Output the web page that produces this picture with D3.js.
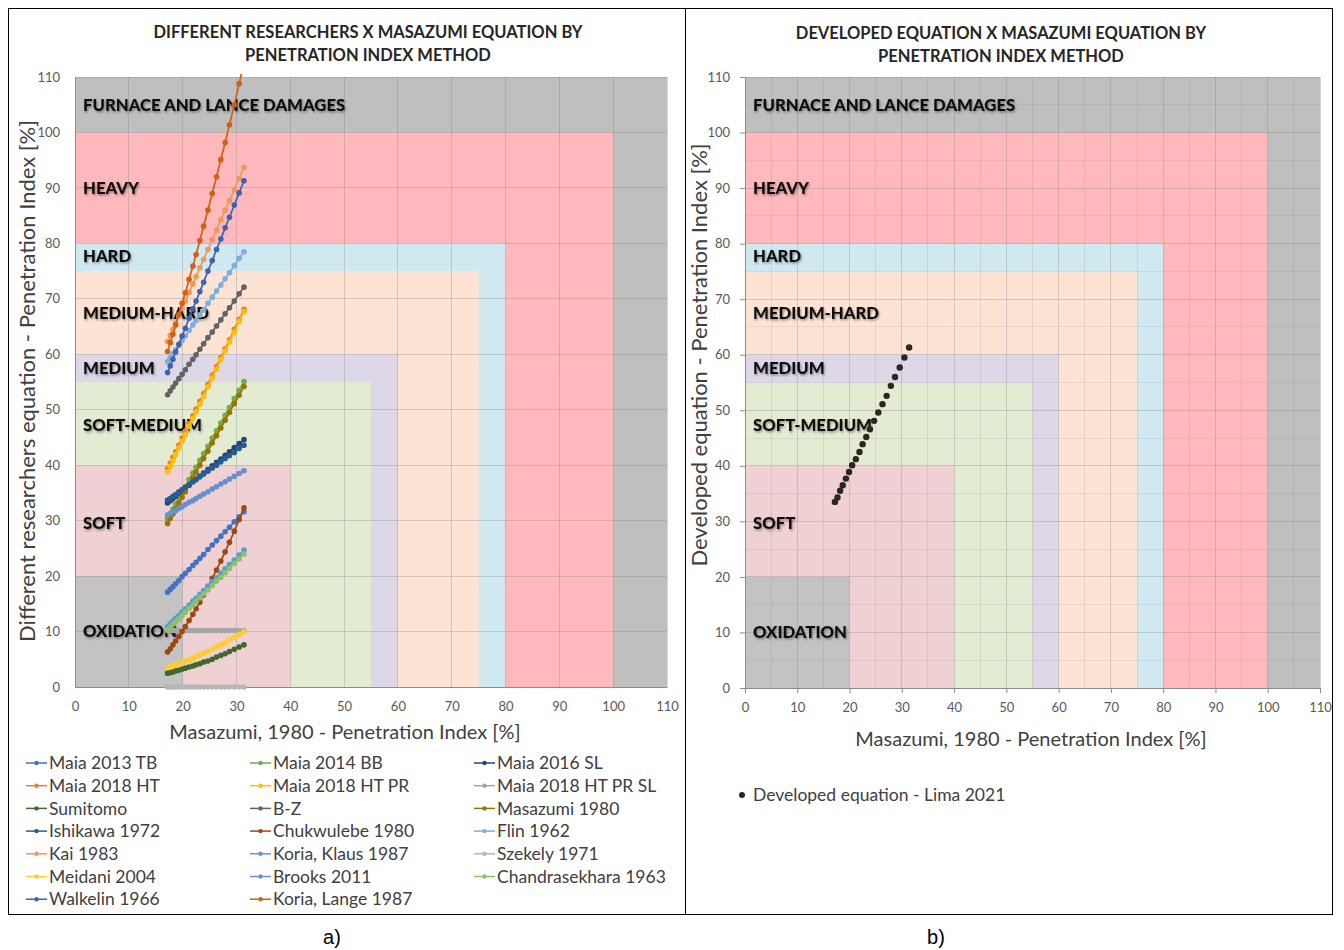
<!DOCTYPE html>
<html>
<head>
<meta charset="utf-8">
<script src="https://cdn.jsdelivr.net/npm/d3@7"></script>
<style>
  body { margin: 0; background: #fff; }
  svg { display: block; font-family: Lato, "Open Sans", sans-serif; }
</style>
</head>
<body>
<svg id="chart" width="1344" height="950"></svg>
<script>
(function () {
    'use strict';

    // Masazumi 1980 penetration index (x of every point, both panels)
    const masazumiX = [17.2, 17.7, 18.2, 18.7, 19.3, 19.9, 20.5, 21.2, 21.9, 22.5, 23.2,
                       23.9, 24.7, 25.5, 26.3, 27.1, 27.9, 28.7, 29.6, 30.5, 31.4];

    // panel b) developed equation - Lima 2021
    const limaValues = [33.5, 34.3, 35.5, 36.5, 37.7, 38.9, 40.1, 41.2, 42.5, 43.9, 45.2,
                        46.6, 48.1, 49.6, 51.1, 52.6, 54.4, 56.0, 57.7, 59.5, 61.3];

    // panel a) other researchers, in legend order
    const maia2013TB = [17.1, 17.6, 18.1, 18.6, 19.2, 19.9, 20.5, 21.2, 21.9, 22.5, 23.2, 23.9, 24.8, 25.6, 26.4, 27.2, 28.0, 28.8, 29.8, 30.7, 31.6];
    const maia2014BB = [30.4, 31.3, 32.1, 33.0, 34.1, 35.1, 36.1, 37.4, 38.6, 39.6, 40.9, 42.1, 43.4, 44.9, 46.2, 47.6, 49.0, 50.4, 52.0, 53.5, 55.1];
    const maia2016SL = [33.2, 33.6, 34.0, 34.4, 34.9, 35.4, 35.8, 36.4, 37.0, 37.5, 38.0, 38.6, 39.2, 39.9, 40.5, 41.1, 41.8, 42.4, 43.2, 43.9, 44.6];
    const maia2018HT = [39.4, 40.4, 41.4, 42.4, 43.6, 44.9, 46.1, 47.5, 48.9, 50.1, 51.5, 52.9, 54.6, 56.2, 57.8, 59.4, 61.0, 62.6, 64.5, 66.3, 68.1];
    const maia2018HTPR = [38.8, 39.8, 40.8, 41.9, 43.1, 44.3, 45.5, 47.0, 48.4, 49.6, 51.0, 52.4, 54.1, 55.7, 57.3, 59.0, 60.6, 62.2, 64.0, 65.9, 67.7];
    const maia2018HTPRSL = [10.2, 10.2, 10.2, 10.2, 10.2, 10.2, 10.2, 10.2, 10.2, 10.2, 10.2, 10.2, 10.2, 10.2, 10.2, 10.2, 10.2, 10.2, 10.2, 10.2, 10.2];
    const sumitomo = [2.5, 2.6, 2.7, 2.9, 3.0, 3.2, 3.4, 3.6, 3.8, 4.0, 4.2, 4.5, 4.7, 5.0, 5.4, 5.7, 6.0, 6.4, 6.8, 7.2, 7.6];
    const bZ = [52.7, 53.4, 54.1, 54.8, 55.6, 56.4, 57.2, 58.2, 59.1, 59.9, 60.9, 61.9, 63.0, 64.0, 65.1, 66.2, 67.3, 68.4, 69.6, 70.9, 72.1];
    const masazumi1980 = [29.5, 30.4, 31.2, 32.1, 33.2, 34.2, 35.2, 36.5, 37.7, 38.7, 40.0, 41.2, 42.5, 44.0, 45.3, 46.7, 48.1, 49.5, 51.1, 52.6, 54.2];
    const ishikawa1972 = [33.7, 34.0, 34.4, 34.7, 35.2, 35.6, 36.0, 36.5, 37.0, 37.4, 37.9, 38.4, 38.9, 39.5, 40.0, 40.6, 41.2, 41.7, 42.3, 43.0, 43.6];
    const chukwulebe1980 = [6.3, 6.9, 7.6, 8.3, 9.1, 10.0, 10.9, 12.0, 13.1, 14.1, 15.3, 16.6, 18.0, 19.6, 21.1, 22.7, 24.4, 26.1, 28.1, 30.2, 32.3];
    const flin1962 = [58.7, 59.4, 60.1, 60.8, 61.6, 62.5, 63.3, 64.3, 65.3, 66.1, 67.1, 68.0, 69.2, 70.3, 71.4, 72.5, 73.6, 74.7, 76.0, 77.3, 78.5];
    const kai1983 = [62.3, 63.4, 64.5, 65.6, 66.9, 68.3, 69.6, 71.2, 72.7, 74.0, 75.6, 77.1, 78.9, 80.7, 82.4, 84.2, 86.0, 87.7, 89.7, 91.7, 93.7];
    const koriaKlaus1987 = [10.9, 11.4, 11.9, 12.4, 12.9, 13.5, 14.1, 14.8, 15.5, 16.0, 16.7, 17.4, 18.2, 19.0, 19.7, 20.5, 21.3, 22.1, 22.9, 23.8, 24.7];
    const szekely1971 = [0, 0, 0, 0, 0, 0, 0, 0, 0, 0, 0, 0, 0, 0, 0, 0, 0, 0, 0, 0, 0];
    const meidani2004 = [3.5, 3.7, 3.8, 4.0, 4.2, 4.4, 4.7, 4.9, 5.2, 5.5, 5.8, 6.1, 6.4, 6.8, 7.2, 7.6, 8.0, 8.5, 9.0, 9.5, 10.0];
    const brooks2011 = [31.0, 31.3, 31.6, 31.8, 32.2, 32.5, 32.9, 33.3, 33.6, 34.0, 34.4, 34.8, 35.2, 35.7, 36.1, 36.6, 37.0, 37.5, 38.0, 38.5, 39.0];
    const chandrasekhara1963 = [10.3, 10.8, 11.3, 11.8, 12.3, 12.9, 13.5, 14.2, 14.8, 15.4, 16.1, 16.8, 17.5, 18.3, 19.1, 19.8, 20.6, 21.4, 22.3, 23.1, 24.0];
    const walkelin1966 = [56.7, 57.9, 59.1, 60.4, 61.8, 63.3, 64.7, 66.5, 68.2, 69.6, 71.3, 73.0, 75.0, 76.9, 78.9, 80.8, 82.8, 84.7, 86.9, 89.1, 91.3];
    const koriaLange1987 = [60.5, 62.1, 63.6, 65.3, 67.2, 69.2, 71.1, 73.5, 75.9, 78.0, 80.5, 83.1, 86.0, 89.0, 92.0, 95.1, 98.2, 101.4, 105.0, 108.8, 112.5];

    const seriesNames = ["Maia 2013 TB", "Maia 2014 BB", "Maia 2016 SL", "Maia 2018 HT", "Maia 2018 HT PR",
                         "Maia 2018 HT PR SL", "Sumitomo", "B-Z", "Masazumi 1980", "Ishikawa 1972",
                         "Chukwulebe 1980", "Flin 1962", "Kai 1983", "Koria, Klaus 1987", "Szekely 1971",
                         "Meidani 2004", "Brooks 2011", "Chandrasekhara 1963", "Walkelin 1966", "Koria, Lange 1987"];
    const seriesValues = [maia2013TB, maia2014BB, maia2016SL, maia2018HT, maia2018HTPR,
                          maia2018HTPRSL, sumitomo, bZ, masazumi1980, ishikawa1972,
                          chukwulebe1980, flin1962, kai1983, koriaKlaus1987, szekely1971,
                          meidani2004, brooks2011, chandrasekhara1963, walkelin1966, koriaLange1987];
    const seriesColors = ["#4472C4", "#70AD47", "#264478", "#ED7D31", "#FFC000",
                          "#A5A5A5", "#43682B", "#636363", "#997300", "#255E91",
                          "#9E480E", "#7CAFDD", "#F1975A", "#5B9BD5", "#B7B7B7",
                          "#FFCD33", "#698ED0", "#8CC168", "#3E62B2", "#D26012"];

    // hardness zones: squares from the origin up to the limit
    const zoneNames = ["FURNACE AND LANCE DAMAGES", "HEAVY", "HARD", "MEDIUM-HARD",
                       "MEDIUM", "SOFT-MEDIUM", "SOFT", "OXIDATION"];
    const zoneLimits = [110, 100, 80, 75, 60, 55, 40, 20];
    const zoneLabelY = [105, 90, 77.7, 67.5, 57.5, 47.3, 29.6, 10];
    const zoneColors = ["#bfbfbf", "#ffb9bc", "#d0e8f0", "#fde3d3", "#ddd7e8", "#e3ebd3", "#efd0d3", "#c3c3c3"];

    const tickValues = [0, 10, 20, 30, 40, 50, 60, 70, 80, 90, 100, 110];

    const svg = d3.select("#chart");

    svg.append("defs").append("filter")
        .attr("id", "shadow")
        .attr("x", "-5%").attr("y", "-30%").attr("width", "110%").attr("height", "160%")
        .append("feDropShadow")
        .attr("dx", 1).attr("dy", 1.5).attr("stdDeviation", 1)
        .attr("flood-color", "#000").attr("flood-opacity", 0.4);

    // panel frames
    svg.append("rect").attr("x", 8.5).attr("y", 8.5).attr("width", 1324).attr("height", 906)
        .attr("fill", "none").attr("stroke", "#000");
    svg.append("line").attr("x1", 685.5).attr("x2", 685.5).attr("y1", 8).attr("y2", 915)
        .attr("stroke", "#000");

    function drawPanel(cfg) {
        const x = d3.scaleLinear().domain([0, 110]).range(cfg.xr);
        const y = d3.scaleLinear().domain([0, 110]).range(cfg.yr);
        const g = svg.append("g");

        g.append("clipPath").attr("id", cfg.id + "-clip")
            .append("rect")
            .attr("x", x(0) - 4).attr("y", y(110) - 3)
            .attr("width", x(110) - x(0) + 8).attr("height", y(0) - y(110) + 6);

        g.append("g").selectAll("rect")
            .data(zoneNames)
            .join("rect")
            .attr("x", x(0))
            .attr("y", (d, i) => y(zoneLimits[i]))
            .attr("width", (d, i) => x(zoneLimits[i]) - x(0))
            .attr("height", (d, i) => y(0) - y(zoneLimits[i]))
            .attr("fill", (d, i) => zoneColors[i]);

        // grid
        const gridVals = cfg.minor ? d3.range(0, 111, 5) : tickValues;
        const grid = g.append("g").attr("stroke", "#7f7f7f").attr("shape-rendering", "crispEdges");
        grid.selectAll("line.v").data(gridVals).join("line").attr("class", "v")
            .attr("x1", d => x(d)).attr("x2", d => x(d))
            .attr("y1", y(0)).attr("y2", y(110))
            .attr("stroke-opacity", d => d % 10 ? 0.18 : 0.3);
        grid.selectAll("line.h").data(gridVals).join("line").attr("class", "h")
            .attr("y1", d => y(d)).attr("y2", d => y(d))
            .attr("x1", x(0)).attr("x2", x(110))
            .attr("stroke-opacity", d => d % 10 ? 0.14 : 0.3);

        // axes
        const ax = g.append("g").attr("transform", `translate(0,${y(0)})`)
            .call(d3.axisBottom(x).tickValues(tickValues).tickSize(cfg.tick).tickSizeOuter(0).tickPadding(cfg.tick ? 10 : 15));
        const ay = g.append("g").attr("transform", `translate(${x(0)},0)`)
            .call(d3.axisLeft(y).tickValues(tickValues).tickSize(cfg.tick).tickSizeOuter(0).tickPadding(cfg.tick ? 10 : 15));
        [ax, ay].forEach(a => {
            a.select(".domain").attr("stroke", "#8c8c8c");
            a.selectAll(".tick line").attr("stroke", "#8c8c8c");
            a.selectAll("text").attr("fill", "#595959").style("font-size", "13px")
                .style("font-family", "Lato, 'Open Sans', sans-serif");
        });

        // zone labels
        g.append("g").selectAll("text")
            .data(zoneNames)
            .join("text")
            .attr("x", x(0) + 8)
            .attr("y", (d, i) => y(zoneLabelY[i]))
            .attr("dy", "0.35em")
            .attr("filter", "url(#shadow)")
            .style("font-size", "16.7px").style("font-weight", "900")
            .attr("fill", "#111")
            .text(d => d);

        // series
        const plot = g.append("g").attr("clip-path", `url(#${cfg.id}-clip)`);
        const line = d3.line().x((d, i) => x(masazumiX[i])).y(d => y(d));
        cfg.series.forEach(s => {
            if (s.line) {
                plot.append("path").datum(s.values)
                    .attr("fill", "none").attr("stroke", s.color).attr("stroke-width", 1.7)
                    .attr("d", line);
            }
            plot.append("g").selectAll("circle")
                .data(s.values)
                .join("circle")
                .attr("cx", (d, i) => x(masazumiX[i]))
                .attr("cy", d => y(d))
                .attr("r", s.r)
                .attr("fill", s.color);
        });

        // titles
        const title = g.append("text").attr("text-anchor", "middle")
            .style("font-size", "16.5px").style("font-weight", "bold").attr("fill", "#262626");
        cfg.title.forEach((t, i) => {
            title.append("tspan").attr("x", cfg.titleX).attr("y", cfg.titleY + i * 23).text(t);
        });

        g.append("text").attr("text-anchor", "middle")
            .attr("x", cfg.xTitleX).attr("y", cfg.xTitleY)
            .style("font-size", "20px").attr("fill", "#404040")
            .text("Masazumi, 1980 - Penetration Index [%]");

        g.append("text").attr("text-anchor", "middle")
            .attr("transform", `translate(${cfg.yTitleX},${cfg.yTitleY}) rotate(-90)`)
            .style("font-size", "22px").attr("fill", "#404040")
            .text(cfg.yTitle);
    }

    drawPanel({
        id: "a",
        xr: [75, 667], yr: [687, 77], minor: false, tick: 0,
        title: ["DIFFERENT RESEARCHERS X MASAZUMI EQUATION BY", "PENETRATION INDEX METHOD"],
        titleX: 368, titleY: 38,
        xTitleX: 345, xTitleY: 739, yTitleX: 35, yTitleY: 381,
        yTitle: "Different researchers equation - Penetration Index [%]",
        series: seriesValues.map((v, i) => ({values: v, color: seriesColors[i], line: true, r: 2.8}))
    });

    drawPanel({
        id: "b",
        xr: [745, 1320], yr: [688, 77], minor: true, tick: 5,
        title: ["DEVELOPED EQUATION X MASAZUMI EQUATION BY", "PENETRATION INDEX METHOD"],
        titleX: 1001, titleY: 39,
        xTitleX: 1031, xTitleY: 746, yTitleX: 707, yTitleY: 355,
        yTitle: "Developed equation - Penetration Index [%]",
        series: [{values: limaValues, color: "#2b2620", line: false, r: 3.2}]
    });

    // legend panel a)
    const legend = svg.append("g")
        .selectAll("g")
        .data(seriesNames)
        .join("g")
        .attr("transform", (d, i) => `translate(${[26, 250, 474][i % 3]},${763 + Math.floor(i / 3) * 22.7})`);
    legend.append("line").attr("x1", 0).attr("x2", 21)
        .attr("stroke", (d, i) => seriesColors[i]).attr("stroke-width", 1.5);
    legend.append("circle").attr("cx", 10.5).attr("r", 2.2)
        .attr("fill", (d, i) => seriesColors[i]);
    legend.append("text").attr("x", 23).attr("dy", "0.35em")
        .style("font-size", "17.5px").attr("fill", "#404040")
        .text(d => d);

    // legend panel b)
    const legendB = svg.append("g").attr("transform", "translate(742,795)");
    legendB.append("circle").attr("r", 3).attr("fill", "#2b2620");
    legendB.append("text").attr("x", 11).attr("dy", "0.35em")
        .style("font-size", "17.5px").attr("fill", "#404040")
        .text("Developed equation - Lima 2021");

    svg.append("text").attr("x", 332).attr("y", 944).attr("text-anchor", "middle")
        .style("font-family", "Arial, 'Liberation Sans', sans-serif").style("font-size", "20px")
        .text("a)");
    svg.append("text").attr("x", 936).attr("y", 944).attr("text-anchor", "middle")
        .style("font-family", "Arial, 'Liberation Sans', sans-serif").style("font-size", "20px")
        .text("b)");
}());
</script>
</body>
</html>
